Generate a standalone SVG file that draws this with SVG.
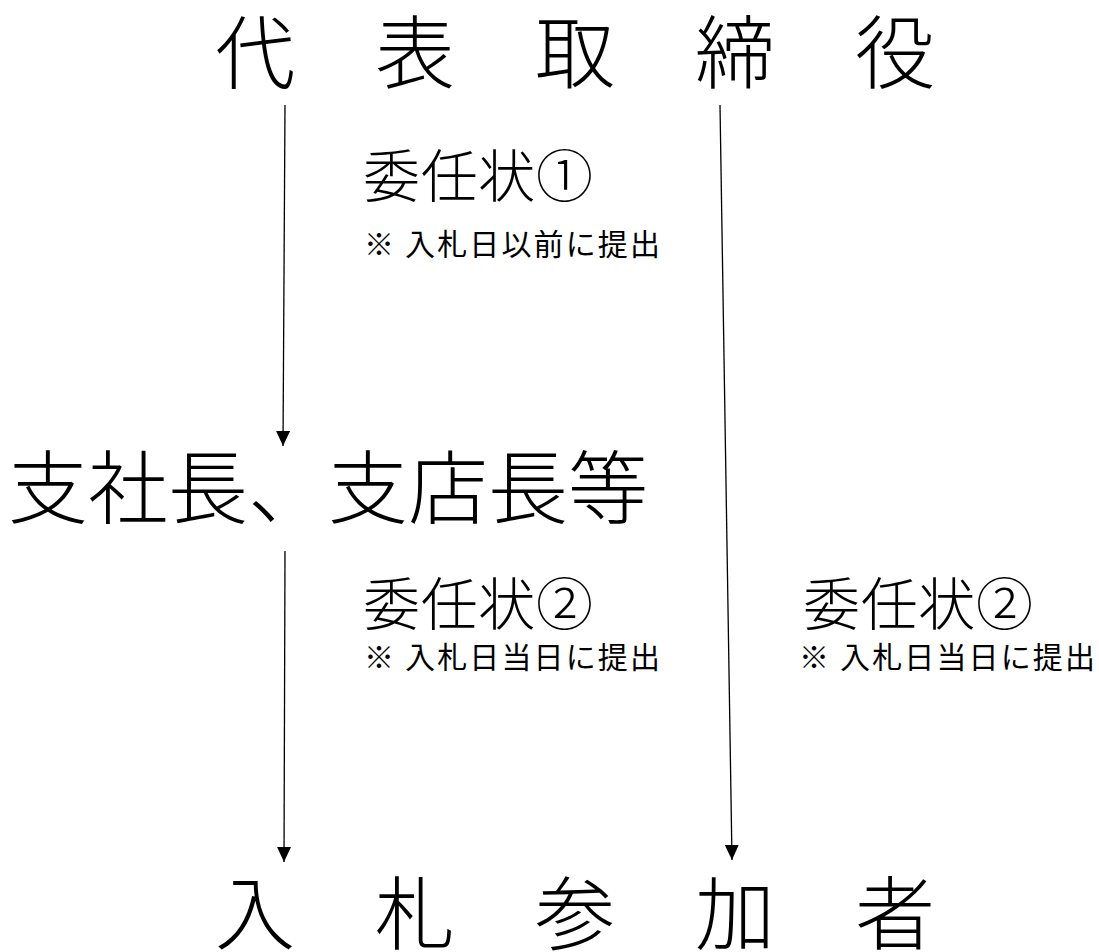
<svg xmlns="http://www.w3.org/2000/svg" width="1099" height="952" viewBox="0 0 1099 952">
<style>
.big{font-family:"Noto Sans CJK JP","Noto Sans CJK SC",sans-serif;font-size:80px;fill:#000;font-weight:300}
.mid{font-family:"Noto Sans CJK JP","Noto Sans CJK SC",sans-serif;font-size:57px;fill:#000;font-weight:300}
.small{font-family:"Noto Sans CJK JP","Noto Sans CJK SC",sans-serif;font-size:30px;fill:#000}
.conn{stroke:#000;stroke-width:1.3;fill:none;marker-end:url(#ah)}
</style>
<defs>
<marker id="ah" markerUnits="userSpaceOnUse" markerWidth="16" markerHeight="14" refX="15" refY="7" orient="auto">
<path d="M0,0 L15,7 L0,14 z" fill="#000"/>
</marker>
</defs>
<rect width="1099" height="952" fill="#fff"/>
<g id="node-ceo"><text class="big" x="215" y="82" textLength="720" lengthAdjust="spacing">代　表　取　締　役</text></g>
<g id="node-branch"><text class="big" x="8" y="517" textLength="640" lengthAdjust="spacing">支社長、支店長等</text></g>
<g id="node-bidder"><text class="big" x="215" y="943" textLength="720" lengthAdjust="spacing">入　札　参　加　者</text></g>
<g id="label-1">
<text class="mid" x="363" y="197" textLength="230" lengthAdjust="spacing">委任状①</text>
<text class="small" x="364" y="255" textLength="296" lengthAdjust="spacing">※ 入札日以前に提出</text>
</g>
<g id="label-2a">
<text class="mid" x="363" y="625" textLength="230" lengthAdjust="spacing">委任状②</text>
<text class="small" x="364" y="668" textLength="296" lengthAdjust="spacing">※ 入札日当日に提出</text>
</g>
<g id="label-2b">
<text class="mid" x="803" y="625" textLength="230" lengthAdjust="spacing">委任状②</text>
<text class="small" x="799" y="668" textLength="296" lengthAdjust="spacing">※ 入札日当日に提出</text>
</g>
<g id="connectors">
<line class="conn" x1="285" y1="105" x2="283" y2="446"/>
<line class="conn" x1="720" y1="105" x2="732" y2="860"/>
<line class="conn" x1="285" y1="551" x2="284" y2="862"/>
</g>
</svg>
